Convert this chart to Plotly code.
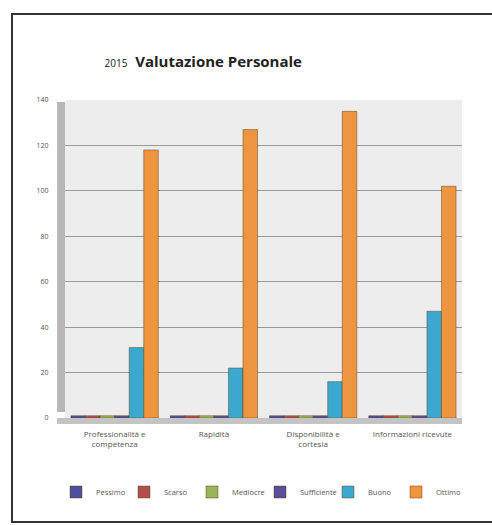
import plotly.graph_objects as go

categories = ["Professionalità e<br>competenza", "Rapidità", "Disponibilità e<br>cortesia", "Informazioni ricevute"]
series_names = ["Pessimo", "Scarso", "Mediocre", "Sufficiente", "Buono", "Ottimo"]
pessimo = [1, 1, 1, 1]
scarso = [1, 1, 1, 1]
mediocre = [1, 1, 1, 1]
sufficiente = [1, 1, 1, 1]
buono = [31, 22, 16, 47]
ottimo = [118, 127, 135, 102]
colors = ["#4F4F9F", "#B0504D", "#9BB45C", "#5B4F99", "#3BA8CF", "#EE9540"]
y_ticks = [0, 20, 40, 60, 80, 100, 120, 140]

W, H = 492, 525
L, R, T, B = 65, 30, 100, 107
pw, ph = W - L - R, H - T - B

def px_x(p):
    return (p - L) / pw

def px_y(p):
    return (H - B - p) / ph

fig = go.Figure()
for name, vals, col in zip(series_names, [pessimo, scarso, mediocre, sufficiente, buono, ottimo], colors):
    fig.add_trace(go.Bar(
        name=name, x=categories, y=vals,
        marker=dict(color=col, line=dict(color="rgba(90,60,20,0.45)", width=1)),
    ))

shapes = [
    # left side wall (3D look)
    dict(type="rect", xref="paper", yref="paper", x0=px_x(57), x1=0, y0=px_y(412), y1=px_y(102),
         fillcolor="#B8B8B8", line=dict(width=0), layer="below"),
    # floor
    dict(type="rect", xref="paper", yref="paper", x0=px_x(57), x1=1, y0=px_y(424), y1=0,
         fillcolor="#C4C4C4", line=dict(width=0), layer="above"),
    # outer border
    dict(type="rect", xref="paper", yref="paper", x0=px_x(12), x1=px_x(496), y0=px_y(522), y1=px_y(14),
         line=dict(color="#333333", width=2), fillcolor="rgba(0,0,0,0)"),
]

fig.update_layout(
    width=W, height=H,
    margin=dict(l=L, r=R, t=T, b=B),
    paper_bgcolor="white",
    plot_bgcolor="#EDEDED",
    barmode="group",
    bargap=0.12,
    bargroupgap=0,
    font=dict(family="Open Sans, sans-serif", color="#555555"),
    title=dict(
        text="<span style='font-size:10px'>2015</span>  <b>Valutazione Personale</b>",
        x=px_x(229), xanchor="center", y=1 - 62 / H, yanchor="middle",
        font=dict(size=15, color="#222222", family="Open Sans, sans-serif"),
    ),
    xaxis=dict(
        tickfont=dict(size=8, color="#555555"),
        showline=False, showgrid=False,
        ticks="outside", ticklen=8, tickcolor="rgba(0,0,0,0)",
    ),
    yaxis=dict(
        range=[0, 140], tickvals=y_ticks,
        tickfont=dict(size=7, color="#555555"),
        showgrid=True, gridcolor="#9A9A9A", gridwidth=1,
        zeroline=False, showline=False,
        ticks="outside", ticklen=14, tickcolor="rgba(0,0,0,0)",
    ),
    legend=dict(
        orientation="h", x=px_x(56), xanchor="left", y=px_y(492), yanchor="middle",
        font=dict(size=7.5, color="#555555"),
        itemwidth=30, entrywidth=23, entrywidthmode="pixels",
        traceorder="normal",
        bgcolor="rgba(0,0,0,0)",
    ),
    shapes=shapes,
)

fig.write_html("out.html")
